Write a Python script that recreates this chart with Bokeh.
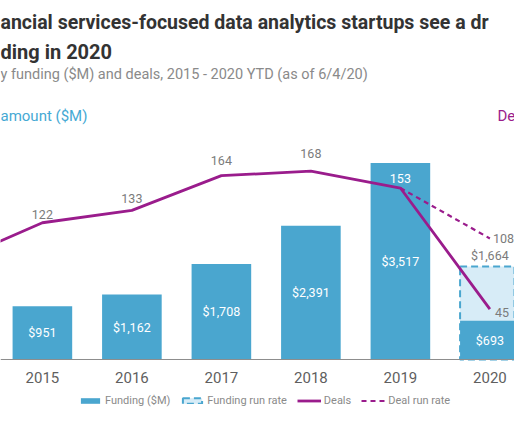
from bokeh.plotting import figure
from bokeh.models import (ColumnDataSource, Range1d, Span, Label, Legend, LegendItem)
from bokeh.core.properties import value
from bokeh.embed import file_html
from bokeh.resources import INLINE

# ---------------- data ----------------
years = [2015, 2016, 2017, 2018, 2019, 2020]
year_labels = ["2015", "2016", "2017", "2018", "2019", "2020"]
funding = [951, 1162, 1708, 2391, 3517, 693]          # $M
funding_run_rate_2020 = 1664                           # $M
deal_years = [2014, 2015, 2016, 2017, 2018, 2019, 2020]
deals = [87, 122, 133, 164, 168, 153, 45]
deal_run_rate_2020 = 108

title_1 = "ancial services-focused data analytics startups see a dr"
title_2 = "ding in 2020"
subtitle = "y funding ($M) and deals, 2015 - 2020 YTD (as of 6/4/20)"
left_label = "amount ($M)"
right_label = "De"
legend_labels = ["Funding ($M)", "Funding run rate", "Deals", "Deal run rate"]

# ---------------- style ----------------
FONT = "Roboto"
BLUE = "#4aa6cf"
LIGHT = "#d7ecf7"
PURPLE = "#9a1c8c"
GREY = "#7b7b7b"
BAR_W = 0.666
deal_label_dy = [-8, -12, -15, -18, -10]
deal_label_colors = [GREY, GREY, GREY, GREY, "white"]

W, H = 514, 426

p = figure(width=W, height=H, title=None, output_backend="svg", toolbar_location=None,
           x_range=Range1d(2014.532, 2020.275), y_range=Range1d(-1198.6, 6422.2),
           min_border=0, x_axis_type=None, y_axis_type=None)
p.outline_line_color = None
p.grid.visible = False
p.background_fill_color = "white"
p.border_fill_color = "white"
p.extra_y_ranges = {"deals": Range1d(-59.77, 320.28)}

# baseline (x axis line) and year labels
p.add_layout(Span(location=0, dimension="width", line_color="#8c8c8c", line_width=1))
p.text(x=years, y=[0] * len(years), text=year_labels, y_offset=18,
       text_font=value(FONT), text_font_size="15px", text_color="#5f5f5f",
       text_align="center", text_baseline="middle")

# run-rate box for 2020
rr_src = ColumnDataSource(dict(x=[years[-1]], top=[funding_run_rate_2020],
                               label=[f"${funding_run_rate_2020:,}"]))
r_rr = p.vbar(x="x", top="top", width=BAR_W, source=rr_src, fill_color=LIGHT,
              line_color=BLUE, line_width=2, line_dash="7 4")

# funding bars
bar_src = ColumnDataSource(dict(x=years, top=funding, mid=[f / 2 for f in funding],
                                label=[f"${f:,}" for f in funding]))
r_bar = p.vbar(x="x", top="top", width=BAR_W, source=bar_src, fill_color=BLUE,
               line_color=None)

p.text(x="x", y="mid", text="label", source=bar_src, text_font=value(FONT),
       text_font_size="12.5px", text_color="white", text_align="center",
       text_baseline="middle")
p.text(x="x", y="top", text="label", source=rr_src, text_font=value(FONT),
       text_font_size="12.5px", text_color=GREY, text_align="center",
       text_baseline="middle", y_offset=-11)

# deals lines
r_deals = p.line(deal_years, deals, y_range_name="deals", line_color=PURPLE,
                 line_width=2.8, line_join="round")
r_deal_rr = p.line([deal_years[-2], deal_years[-1]], [deals[-2], deal_run_rate_2020],
                   y_range_name="deals", line_color=PURPLE, line_width=2.2,
                   line_dash="5 4")

lbl_src = ColumnDataSource(dict(x=deal_years[1:6], y=deals[1:6],
                                text=[str(d) for d in deals[1:6]],
                                dy=deal_label_dy, color=deal_label_colors))
p.text(x="x", y="y", text="text", source=lbl_src, y_range_name="deals",
       y_offset="dy", text_color="color", text_font=value(FONT),
       text_font_size="12.5px", text_align="center", text_baseline="middle")
p.text(x=[deal_years[-1]], y=[deals[-1]], text=[str(deals[-1])], y_range_name="deals",
       x_offset=5, y_offset=3, text_color=GREY, text_font=value(FONT),
       text_font_size="12.5px", text_align="left", text_baseline="middle")
p.text(x=[deal_years[-1]], y=[deal_run_rate_2020], text=[str(deal_run_rate_2020)],
       y_range_name="deals", x_offset=3, y_offset=0, text_color=GREY,
       text_font=value(FONT), text_font_size="12.5px", text_align="left",
       text_baseline="middle")

# titles (screen units from the bottom-left of the canvas)
def fy(y_from_top):
    return H - y_from_top

p.add_layout(Label(x=0, y=fy(22), x_units="screen", y_units="screen", text=title_1,
                   text_font=FONT, text_font_style="bold", text_font_size="19.5px",
                   text_color="#333333", text_baseline="alphabetic"))
p.add_layout(Label(x=0, y=fy(51), x_units="screen", y_units="screen", text=title_2,
                   text_font=FONT, text_font_style="bold", text_font_size="20px",
                   text_color="#333333", text_baseline="alphabetic"))
p.add_layout(Label(x=0, y=fy(74), x_units="screen", y_units="screen", text=subtitle,
                   text_font=FONT, text_font_size="14.5px", text_color="#8a8a8a",
                   text_baseline="alphabetic"))
p.add_layout(Label(x=0, y=fy(115.5), x_units="screen", y_units="screen", text=left_label,
                   text_font=FONT, text_font_size="15px", text_color="#45a9d4",
                   text_baseline="alphabetic"))
p.add_layout(Label(x=497, y=fy(115.5), x_units="screen", y_units="screen", text=right_label,
                   text_font=FONT, text_font_size="15px", text_color=PURPLE,
                   text_baseline="alphabetic"))

legend = Legend(items=[LegendItem(label=legend_labels[0], renderers=[r_bar]),
                       LegendItem(label=legend_labels[1], renderers=[r_rr]),
                       LegendItem(label=legend_labels[2], renderers=[r_deals]),
                       LegendItem(label=legend_labels[3], renderers=[r_deal_rr])],
                orientation="horizontal", location=(78, 19), glyph_width=24,
                glyph_height=7, label_standoff=3, spacing=10, padding=0, margin=0,
                border_line_color=None, background_fill_alpha=0,
                label_text_font=FONT, label_text_font_size="11px",
                label_text_color="#8a8a8a")
p.add_layout(legend)

open("out.html", "w").write(file_html(p, INLINE))
